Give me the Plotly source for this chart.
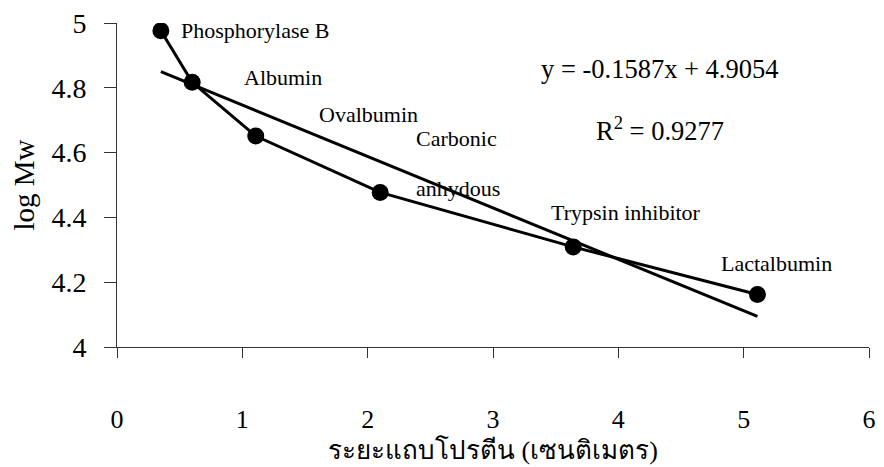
import plotly.graph_objects as go

# Data
proteins = ["Phosphorylase B", "Albumin", "Ovalbumin", "Carbonic anhydous", "Trypsin inhibitor", "Lactalbumin"]
distance_cm = [0.35, 0.60, 1.107, 2.10, 3.64, 5.11]
log_mw = [4.976, 4.817, 4.651, 4.477, 4.309, 4.162]
slope = -0.1587
intercept = 4.9054
r2 = 0.9277

x_ticks = [0, 1, 2, 3, 4, 5, 6]
y_ticks = [4, 4.2, 4.4, 4.6, 4.8, 5]
y_tick_text = ["4", "4.2", "4.4", "4.6", "4.8", "5"]

trend_x = [min(distance_cm), max(distance_cm)]
trend_y = [slope * v + intercept for v in trend_x]

FONT = "Liberation Serif"

fig = go.Figure()
fig.add_trace(go.Scatter(x=distance_cm, y=log_mw, mode="lines+markers",
                         line=dict(color="black", width=3),
                         marker=dict(color="black", size=17),
                         showlegend=False, hoverinfo="skip"))
fig.add_trace(go.Scatter(x=trend_x, y=trend_y, mode="lines",
                         line=dict(color="black", width=3),
                         showlegend=False, hoverinfo="skip"))

labels = [
    ("Phosphorylase B", 0.498, 4.976),
    ("Albumin", 0.996, 4.832),
    ("Ovalbumin", 1.597, 4.719),
    ("Carbonic", 2.372, 4.642),
    ("anhydous", 2.372, 4.489),
    ("Trypsin inhibitor", 3.447, 4.416),
    ("Lactalbumin", 4.806, 4.257),
]
for t, lx, ly in labels:
    fig.add_annotation(x=lx, y=ly, text=t, xref="x", yref="y", showarrow=False,
                       xanchor="left", yanchor="middle",
                       font=dict(family=FONT, size=22, color="black"))

fig.add_annotation(x=3.368, y=4.859, xref="x", yref="y", showarrow=False,
                   xanchor="left", yanchor="middle",
                   text=f"y = {slope}x + {intercept}",
                   font=dict(family=FONT, size=26.5, color="black"))
fig.add_annotation(x=3.802, y=4.672, xref="x", yref="y", showarrow=False,
                   xanchor="left", yanchor="middle",
                   text=f"R<sup>2</sup> = {r2}",
                   font=dict(family=FONT, size=26.5, color="black"))

fig.update_layout(
    width=884, height=467,
    margin=dict(l=117, r=8, t=20, b=120),
    paper_bgcolor="white", plot_bgcolor="white",
    font=dict(family=FONT, color="black"),
    xaxis=dict(range=[0, 6], tickvals=x_ticks, ticks="outside", ticklen=10,
               tickcolor="#333", showline=True, linecolor="#333", linewidth=1,
               showgrid=False, zeroline=False, ticklabelstandoff=39,
               tickfont=dict(family=FONT, size=26),
               title=dict(text="ระยะแถบโปรตีน (เซนติเมตร)", standoff=7,
                          font=dict(family=FONT, size=26))),
    yaxis=dict(range=[4, 5], tickvals=y_ticks, ticktext=y_tick_text,
               ticks="outside", ticklen=12,
               tickcolor="#333", showline=True, linecolor="#333", linewidth=1,
               showgrid=False, zeroline=False, ticklabelstandoff=12,
               tickfont=dict(family=FONT, size=28),
               title=dict(text="log Mw", standoff=8, font=dict(family=FONT, size=29))),
)

fig.write_html("out.html")
